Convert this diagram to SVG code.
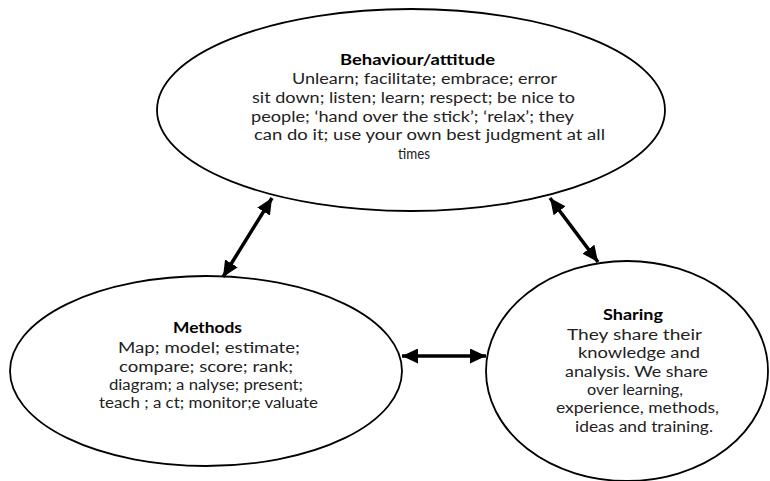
<svg xmlns="http://www.w3.org/2000/svg" width="770" height="481" viewBox="0 0 770 481">
  <style>
    .node { fill: #ffffff; stroke: #000000; stroke-width: 1.8; }
    text { font-family: "Lato", "Open Sans", "Liberation Sans", sans-serif; font-size: 14.6px; fill: #222222; }
    .title { font-weight: bold; font-size: 15px; fill: #000000; }
    .link { stroke: #000000; stroke-width: 3.5; fill: none; marker-start: url(#head); marker-end: url(#head); }
  </style>
  <defs>
    <marker id="head" markerUnits="userSpaceOnUse" viewBox="0 0 16 15" markerWidth="16" markerHeight="15" refX="16" refY="7.5" orient="auto-start-reverse">
      <path d="M0,0 L16,7.5 L0,15 z" fill="#000000"/>
    </marker>
  </defs>

  <rect width="770" height="481" fill="#ffffff"/>

  <g id="behaviour">
    <ellipse class="node" cx="411" cy="110" rx="254" ry="101"/>
    <text class="title" x="340" y="65" textLength="155" lengthAdjust="spacingAndGlyphs">Behaviour/attitude</text>
    <text x="292" y="84" textLength="265" lengthAdjust="spacingAndGlyphs">Unlearn; facilitate; embrace; error</text>
    <text x="252" y="102.7" textLength="323" lengthAdjust="spacingAndGlyphs">sit down; listen; learn; respect; be nice to</text>
    <text x="251" y="121.5" textLength="323" lengthAdjust="spacingAndGlyphs">people; ‘hand over the stick’; ‘relax’; they</text>
    <text x="254" y="140.2" textLength="351" lengthAdjust="spacingAndGlyphs">can do it; use your own best judgment at all</text>
    <text x="398" y="159" textLength="32" lengthAdjust="spacingAndGlyphs">times</text>
  </g>

  <g id="methods">
    <ellipse class="node" cx="206" cy="371" rx="196" ry="95"/>
    <text class="title" x="173" y="333.3" textLength="69" lengthAdjust="spacingAndGlyphs">Methods</text>
    <text x="118" y="352.7" textLength="182" lengthAdjust="spacingAndGlyphs">Map; model; estimate;</text>
    <text x="119" y="371.5" textLength="174" lengthAdjust="spacingAndGlyphs">compare; score; rank;</text>
    <text x="109" y="390" textLength="194" lengthAdjust="spacingAndGlyphs">diagram; a nalyse; present;</text>
    <text x="99" y="408.3" textLength="219" lengthAdjust="spacingAndGlyphs">teach ; a ct; monitor;e valuate</text>
  </g>

  <g id="sharing">
    <ellipse class="node" cx="627" cy="371" rx="141" ry="110"/>
    <text class="title" x="603" y="320" textLength="60" lengthAdjust="spacingAndGlyphs">Sharing</text>
    <text x="567" y="340" textLength="135" lengthAdjust="spacingAndGlyphs">They share their</text>
    <text x="578" y="358" textLength="122" lengthAdjust="spacingAndGlyphs">knowledge and</text>
    <text x="565" y="376.7" textLength="143" lengthAdjust="spacingAndGlyphs">analysis. We share</text>
    <text x="587" y="395" textLength="96" lengthAdjust="spacingAndGlyphs">over learning,</text>
    <text x="556" y="413" textLength="163" lengthAdjust="spacingAndGlyphs">experience, methods,</text>
    <text x="575" y="431.7" textLength="138" lengthAdjust="spacingAndGlyphs">ideas and training.</text>
  </g>

  <g id="connectors">
    <line class="link" x1="272" y1="198" x2="223" y2="277"/>
    <line class="link" x1="550" y1="198" x2="598" y2="262"/>
    <line class="link" x1="402" y1="356" x2="486" y2="356"/>
  </g>
</svg>
